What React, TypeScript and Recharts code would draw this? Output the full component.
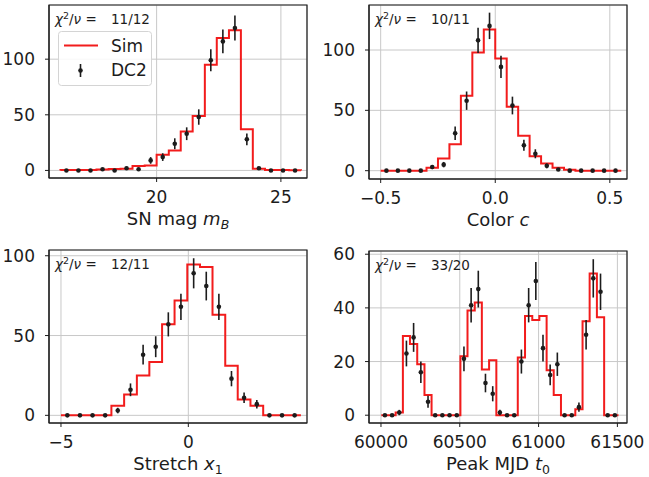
import React from 'react';
import {
  ComposedChart,
  Line,
  Scatter,
  ErrorBar,
  XAxis,
  YAxis,
  CartesianGrid,
  ReferenceArea,
  Legend,
} from 'recharts';

const FONT = '"DejaVu Sans", "Liberation Sans", sans-serif';
const RED = '#f21c1c';
const INK = '#1c1c1c';
const GRID = '#c8c8c8';

// SN mag m_B
const magEdges = [16.13, 16.61, 17.1, 17.58, 18.07, 18.55, 19.03, 19.52, 20.0, 20.49, 20.97, 21.45, 21.94, 22.42, 22.91, 23.39, 23.87, 24.36, 24.84, 25.33, 25.81];
const magSim = [0.3, 0.3, 0.5, 0.8, 1.3, 1.5, 4, 4.5, 14, 18, 35, 49, 95, 119, 126, 37, 1.5, 0.5, 0.3, 0.2];
const magDC2 = [0, 0, 0, 1, 0, 2, 1, 9, 12, 24, 33, 48, 99, 116, 128, 28, 2, 0, 0, 0];
const magTicksX = [20, 25];
const magTicksY = [0, 50, 100];

// Color c
const colEdges = [-0.5, -0.45, -0.4, -0.35, -0.3, -0.25, -0.2, -0.15, -0.1, -0.05, 0.0, 0.05, 0.1, 0.15, 0.2, 0.25, 0.3, 0.35, 0.4, 0.45, 0.5, 0.55];
const colSim = [0, 0, 0, 0, 2.5, 10, 22, 62, 98, 117, 93, 53, 29, 12, 6, 2.5, 0.8, 0, 0, 0, 0];
const colDC2 = [0, 0, 0, 0, 3, 5, 31, 58, 108, 120, 86, 54, 21, 14, 4, 1, 0, 0, 0, 0, 0];
const colTicksX = [-0.5, 0, 0.5];
const colTicksY = [0, 50, 100];

// Stretch x_1
const strEdges = [-5.0, -4.5, -4.01, -3.51, -3.02, -2.52, -2.02, -1.53, -1.03, -0.54, -0.04, 0.46, 0.95, 1.45, 1.94, 2.44, 2.94, 3.43, 3.93, 4.42];
const strSim = [0, 0, 0, 0, 6, 13, 25, 33.5, 57, 72, 94.5, 93, 63, 31, 10, 6, 0, 0, 0];
const strDC2 = [0, 0, 0, 0, 3, 16, 38, 43, 57, 68, 89, 81, 68, 23, 11, 7, 0, 0, 0];
const strTicksX = [-5, 0];
const strTicksY = [0, 50, 100];

// Peak MJD t_0
const mjdEdges = [60002, 60048, 60093, 60139, 60184, 60230, 60276, 60321, 60367, 60412, 60458, 60504, 60549, 60595, 60640, 60686, 60732, 60777, 60823, 60868, 60914, 60960, 61005, 61051, 61096, 61142, 61188, 61233, 61279, 61324, 61370, 61416, 61461, 61507];
const mjdSim = [0, 0, 1, 29.5, 26.5, 19, 7.5, 0, 0, 0, 0, 22, 39, 42, 17, 20.5, 0, 0, 0, 21.5, 37, 35.5, 37, 16.8, 7.5, 0, 0, 2.2, 35, 52.8, 36.5, 0, 0];
const mjdDC2 = [0, 0, 1, 23, 29, 16, 5, 0, 0, 0, 0, 21, 41, 47, 12, 8, 1, 0, 0, 20, 41, 50, 25, 15, 19, 0, 0, 3, 30, 51, 46, 0, 0];
const mjdTicksX = [60000, 60500, 61000, 61500];
const mjdTicksY = [0, 20, 40, 60];

// histtype="step" outline: drop to zero at both ends
const toStep = (edges: number[], sim: number[]) => [
  { x: edges[0], y: 0 },
  ...sim.map((v, i) => ({ x: edges[i], y: v })),
  { x: edges[edges.length - 1], y: sim[sim.length - 1] },
  { x: edges[edges.length - 1], y: 0 },
];

const toPoints = (edges: number[], counts: number[]) =>
  counts.map((n, i) => ({ x: (edges[i] + edges[i + 1]) / 2, y: n, err: Math.sqrt(n) }));

// matplotlib style minus sign
const fmtTick = (v: number) => String(v).replace('-', '\u2212');
const fmtColor = (v: number) => v.toFixed(1).replace('-', '\u2212');

const AxisTitle = ({ tx, ty, main, ital, sub, subItalic }: any) => (
  <text x={tx} y={ty} textAnchor="middle" fontFamily={FONT} fontSize={18} fill={INK}>
    {main}
    <tspan fontStyle="italic">{ital}</tspan>
    {sub ? (
      <tspan dy={4} fontSize={12.5} fontStyle={subItalic ? 'italic' : 'normal'}>
        {sub}
      </tspan>
    ) : null}
  </text>
);

const ChiText = ({ tx, ty, ratio }: any) => (
  <text x={tx} y={ty} fontFamily={FONT} fontSize={13.5} fill={INK}>
    <tspan fontStyle="italic">χ</tspan>
    <tspan dy={-5} fontSize={9.5}>2</tspan>
    <tspan dy={5}>/</tspan>
    <tspan fontStyle="italic">ν</tspan>
    <tspan> =</tspan>
    <tspan x={tx + 56}>{ratio}</tspan>
  </text>
);

const renderLegend = () => (
  <svg width={94} height={55} style={{ display: 'block' }}>
    <rect x={0.5} y={0.5} width={93} height={54} rx={3} fill="rgba(255,255,255,0.85)" stroke="#d4d4d4" />
    <line x1={6} x2={40} y1={14.5} y2={14.5} stroke={RED} strokeWidth={2} />
    <text x={53} y={20.5} fontFamily={FONT} fontSize={17} fill={INK}>Sim</text>
    <line x1={22.5} x2={22.5} y1={33} y2={46} stroke={INK} strokeWidth={1.6} />
    <circle cx={22.5} cy={39.5} r={2.3} fill={INK} />
    <text x={53} y={44.5} fontFamily={FONT} fontSize={17} fill={INK}>DC2</text>
  </svg>
);

const Dot = (props: any) => <circle cx={props.cx} cy={props.cy} r={2.3} fill={INK} />;

const Panel = ({
  left, top, width, height, marginTop, marginRight, xAxisHeight,
  edges, sim, dc2, xDomain, yDomain, xTicks, yTicks, xFormat, title, ratio, legend,
}: any) => {
  const yAxisWidth = 49;
  const plotLeft = yAxisWidth;
  const plotRight = width - marginRight;
  const plotTop = marginTop;
  const plotBottom = height - xAxisHeight;
  const tickStyle = { fontSize: 17, fill: INK, fontFamily: FONT };

  return (
    <div style={{ position: 'absolute', left, top, width, height }}>
      <ComposedChart
        width={width}
        height={height}
        margin={{ top: marginTop, right: marginRight, bottom: 0, left: 0 }}
      >
        <CartesianGrid stroke={GRID} strokeWidth={1} />
        <XAxis
          type="number"
          dataKey="x"
          domain={xDomain}
          ticks={xTicks}
          tickFormatter={xFormat || fmtTick}
          allowDataOverflow
          height={xAxisHeight}
          tickSize={4}
          tickMargin={8.5}
          tick={tickStyle}
          axisLine={{ stroke: INK }}
          tickLine={{ stroke: INK }}
          label={
            <AxisTitle
              tx={(plotLeft + plotRight) / 2}
              ty={plotBottom + 47}
              main={title[0]}
              ital={title[1]}
              sub={title[2]}
              subItalic={title[3]}
            />
          }
        />
        <YAxis
          type="number"
          domain={yDomain}
          ticks={yTicks}
          allowDataOverflow
          width={yAxisWidth}
          tickSize={4}
          tickMargin={10}
          tick={tickStyle}
          axisLine={{ stroke: INK }}
          tickLine={{ stroke: INK }}
          label={<ChiText tx={plotLeft + 6} ty={plotTop + 19} ratio={ratio} />}
        />
        <ReferenceArea
          x1={xDomain[0]}
          x2={xDomain[1]}
          y1={yDomain[0]}
          y2={yDomain[1]}
          fill="none"
          stroke={INK}
          strokeWidth={1.2}
          ifOverflow="visible"
        />
        <Line
          data={toStep(edges, sim)}
          dataKey="y"
          type="stepAfter"
          stroke={RED}
          strokeWidth={2}
          dot={false}
          isAnimationActive={false}
        />
        <Scatter
          data={toPoints(edges, dc2)}
          dataKey="y"
          shape={Dot}
          isAnimationActive={false}
        >
          <ErrorBar dataKey="err" direction="y" width={0} stroke={INK} strokeWidth={1.6} />
        </Scatter>
        {legend ? (
          <Legend
            content={renderLegend}
            layout="horizontal"
            verticalAlign="middle"
            align="center"
            wrapperStyle={{ top: 31, left: 58, width: 94, height: 55 }}
          />
        ) : null}
      </ComposedChart>
    </div>
  );
};

export default function App() {
  return (
    <div style={{ position: 'absolute', left: 0, top: 0, width: 649, height: 477, background: '#fff' }}>
      <Panel
        left={0} top={0} width={320} height={238} marginTop={5} marginRight={13} xAxisHeight={60}
        edges={magEdges} sim={magSim} dc2={magDC2}
        xDomain={[15.67, 26.05]} yDomain={[-6.8, 148.7]} xTicks={magTicksX} yTicks={magTicksY}
        title={['SN mag ', 'm', 'B', true]} ratio="11/12" legend
      />
      <Panel
        left={320} top={0} width={329} height={238} marginTop={5} marginRight={22} xAxisHeight={59}
        edges={colEdges} sim={colSim} dc2={colDC2}
        xDomain={[-0.551, 0.575]} yDomain={[-6.9, 137.3]} xTicks={colTicksX} yTicks={colTicksY}
        xFormat={fmtColor}
        title={['Color ', 'c', '', false]} ratio="10/11"
      />
      <Panel
        left={0} top={238} width={320} height={239} marginTop={12} marginRight={13} xAxisHeight={54}
        edges={strEdges} sim={strSim} dc2={strDC2}
        xDomain={[-5.47, 4.66]} yDomain={[-4.8, 103.6]} xTicks={strTicksX} yTicks={strTicksY}
        title={['Stretch ', 'x', '1', false]} ratio="12/11"
      />
      <Panel
        left={320} top={238} width={329} height={239} marginTop={13} marginRight={22} xAxisHeight={54}
        edges={mjdEdges} sim={mjdSim} dc2={mjdDC2}
        xDomain={[59924, 61561]} yDomain={[-2.9, 61.2]} xTicks={mjdTicksX} yTicks={mjdTicksY}
        title={['Peak MJD ', 't', '0', false]} ratio="33/20"
      />
    </div>
  );
}
